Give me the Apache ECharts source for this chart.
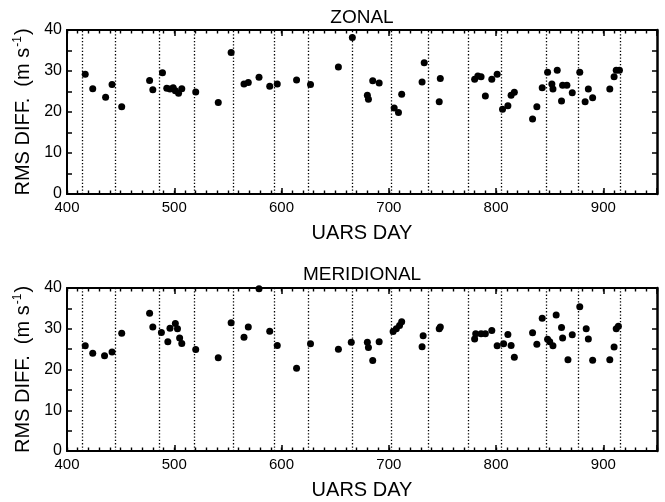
<!DOCTYPE html>
<html>
<head>
<meta charset="utf-8">
<script src="https://cdn.jsdelivr.net/npm/echarts@6/dist/echarts.min.js"></script>
<style>html,body{margin:0;padding:0;background:#fff}#c{width:665px;height:502px}</style>
</head>
<body>
<div id="c"></div>
<script>
// ---- data ----
const zonalDays = [417,424,436,442,451,477,480,489,493,496,499,501,504,507,520,541,553,565,569,579,589,596,614,627,653,666,680,681,685,691,705,709,712,731,733,747,748,780,783,786,790,796,801,806,811,814,817,834,838,843,848,852,853,857,861,862,866,871,878,883,886,890,906,910,912,915];
const zonalRms  = [29.2,25.7,23.6,26.7,21.3,27.7,25.4,29.6,25.8,25.6,25.9,25.2,24.6,25.7,24.9,22.3,34.5,26.8,27.2,28.5,26.3,26.8,27.8,26.7,31.0,38.2,24.1,23.1,27.6,27.1,21.0,19.9,24.3,27.3,32.0,22.5,28.2,28.0,28.8,28.6,23.9,28.0,29.2,20.7,21.5,24.1,24.8,18.3,21.3,25.9,29.7,26.8,25.6,30.2,22.7,26.5,26.5,24.7,29.7,22.5,25.6,23.5,25.6,28.6,30.2,30.2];
const meridDays = [417,424,435,442,451,477,480,488,494,496,501,503,505,507,520,541,553,565,569,579,589,596,614,627,653,665,680,681,685,691,704,707,710,712,731,732,747,748,780,781,786,790,796,801,807,811,814,817,834,838,843,848,850,853,856,861,862,867,871,878,884,886,890,906,910,912,914];
const meridRms  = [25.8,24.0,23.4,24.3,28.9,33.8,30.4,29.1,26.8,30.1,31.3,30.0,27.7,26.4,24.9,22.9,31.5,27.9,30.4,39.8,29.4,25.9,20.3,26.3,25.0,26.7,26.7,25.4,22.2,26.8,29.3,30.0,30.8,31.7,25.6,28.3,30.0,30.4,27.5,28.8,28.8,28.8,29.6,25.8,26.3,28.6,25.9,23.0,29.0,26.2,32.6,27.4,26.8,25.8,33.4,30.3,27.7,22.4,28.5,35.4,30.0,27.5,22.3,22.4,25.5,30.0,30.6];
const yawDays   = [414,445,486,519,555,593,625,666,702,737,774,805,847,877,916];
const xTickLabels = [400,500,600,700,800,900];
const yTickLabels = [0,10,20,30,40];
const panelTitles = ['ZONAL','MERIDIONAL'];
const xName = 'UARS DAY';

// ---- chart ----
const FONT = 'Liberation Sans, Arial, Helvetica, sans-serif';
const X_MIN = 400, X_MAX = 950, Y_MIN = 0, Y_MAX = 40;
const black = '#000';
const AXW = 2;

const grids = [
  {left: 67, top: 30, width: 590, height: 164},
  {left: 67, top: 288, width: 590, height: 163}
];

const xAxis = [], yAxis = [];
grids.forEach((g, gi) => {
  // bottom main
  xAxis.push({gridIndex: gi, type: 'value', position: 'bottom', min: X_MIN, max: X_MAX, interval: 100,
    name: xName, nameLocation: 'middle', nameGap: 29,
    nameTextStyle: {fontFamily: FONT, fontSize: 20, color: black},
    axisLine: {show: true, onZero: false, lineStyle: {color: black, width: AXW}},
    axisTick: {show: true, inside: true, length: 6, lineStyle: {color: black, width: 1.5}},
    axisLabel: {show: true, margin: 6, fontFamily: FONT, fontSize: 15, color: black,
      formatter: v => xTickLabels.includes(v) ? String(v) : ''},
    splitLine: {show: false}});
  // bottom minor
  xAxis.push({gridIndex: gi, type: 'value', position: 'bottom', min: X_MIN, max: X_MAX, interval: 10,
    axisLine: {show: false, onZero: false}, axisLabel: {show: false}, splitLine: {show: false},
    axisTick: {show: true, inside: true, length: 3.5, lineStyle: {color: black, width: 1.4}}});
  // top main
  xAxis.push({gridIndex: gi, type: 'value', position: 'top', min: X_MIN, max: X_MAX, interval: 100,
    axisLine: {show: true, onZero: false, lineStyle: {color: black, width: AXW}},
    axisTick: {show: true, inside: true, length: 6, lineStyle: {color: black, width: 1.5}},
    axisLabel: {show: false}, splitLine: {show: false}});
  // top minor
  xAxis.push({gridIndex: gi, type: 'value', position: 'top', min: X_MIN, max: X_MAX, interval: 10,
    axisLine: {show: false, onZero: false}, axisLabel: {show: false}, splitLine: {show: false},
    axisTick: {show: true, inside: true, length: 3.5, lineStyle: {color: black, width: 1.4}}});
  // left
  yAxis.push({gridIndex: gi, type: 'value', position: 'left', min: Y_MIN, max: Y_MAX, interval: 10,
    name: '{a|RMS DIFF.  (m s}{b|-1}{a|)}', nameLocation: 'middle', nameGap: 28, nameRotate: 90,
    nameTextStyle: {color: black, rich: {
      a: {fontFamily: FONT, fontSize: 20, color: black, lineHeight: 24},
      b: {fontFamily: FONT, fontSize: 12, color: black, verticalAlign: 'top', lineHeight: 24, padding: [0, 1, 8, 1]}
    }},
    axisLine: {show: true, onZero: false, lineStyle: {color: black, width: AXW}},
    axisTick: {show: true, inside: true, length: 5, lineStyle: {color: black, width: 1.5}},
    minorTick: {show: true, splitNumber: 2, length: 5, lineStyle: {color: black, width: 1.5}},
    axisLabel: {show: true, margin: 5, fontFamily: FONT, fontSize: 16, color: black,
      formatter: v => yTickLabels.includes(v) ? String(v) : ''},
    splitLine: {show: false}, minorSplitLine: {show: false}});
  // right
  yAxis.push({gridIndex: gi, type: 'value', position: 'right', min: Y_MIN, max: Y_MAX, interval: 10,
    axisLine: {show: true, onZero: false, lineStyle: {color: black, width: 2.5}},
    axisTick: {show: true, inside: true, length: 5, lineStyle: {color: black, width: 1.5}},
    minorTick: {show: true, splitNumber: 2, length: 5, lineStyle: {color: black, width: 1.5}},
    axisLabel: {show: false}, splitLine: {show: false}});
});

function pairs(xs, ys) { return xs.map((x, i) => [x, ys[i]]); }

const series = [
  [zonalDays, zonalRms],
  [meridDays, meridRms]
].map(([xs, ys], gi) => ({
  type: 'scatter',
  xAxisIndex: gi * 4,
  yAxisIndex: gi * 2,
  data: pairs(xs, ys),
  symbol: 'circle',
  symbolSize: 7,
  clip: false,
  z: 5,
  itemStyle: {color: black, opacity: 1},
  silent: true,
  markLine: {
    silent: true,
    symbol: ['none', 'none'],
    label: {show: false},
    animation: false,
    z: 1,
    lineStyle: {color: black, width: 1.3, type: [1.3, 2], opacity: 1},
    data: yawDays.map(d => ({xAxis: d}))
  }
}));

const graphic = panelTitles.map((t, i) => ({
  type: 'text', x: 362, y: i === 0 ? 8 : 265,
  style: {text: t, font: '19px ' + FONT, fill: black, align: 'center', verticalAlign: 'top'}
}));

const chart = echarts.init(document.getElementById('c'), null, {renderer: 'canvas'});
chart.setOption({
  animation: false,
  backgroundColor: '#fff',
  grid: grids,
  xAxis: xAxis,
  yAxis: yAxis,
  series: series,
  graphic: graphic
});
</script>
</body>
</html>
